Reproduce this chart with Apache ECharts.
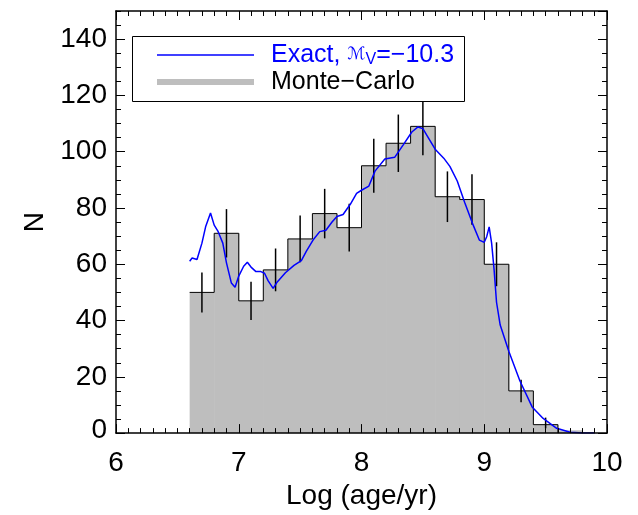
<!DOCTYPE html>
<html>
<head>
<meta charset="utf-8">
<script src="https://cdn.jsdelivr.net/npm/echarts@6/dist/echarts.min.js"></script>
<style>html,body{margin:0;padding:0;background:#fff;}#c{width:638px;height:515px;}</style>
</head>
<body>
<div id="c"></div>
<script>
// ---- data ----
const binEdges = [6.6, 6.8, 7.0, 7.2, 7.4, 7.6, 7.8, 8.0, 8.2, 8.4, 8.6, 8.8, 9.0, 9.2, 9.4, 9.6, 9.8];
const mcCounts = [50, 71, 47, 58, 69, 78, 73, 95, 103, 109, 84, 83, 60, 15, 3, 1];
const outlineBins = 15; // black outline covers the first 15 bins
const errCenters = [6.7, 6.9, 7.1, 7.3, 7.5, 7.7, 7.9, 8.1, 8.3, 8.5, 8.7, 8.9, 9.1, 9.3, 9.5];
const errValues = [50, 71, 47, 58, 69, 78, 73, 95, 103, 109, 84, 83, 60, 15, 3.6];
const errHalf = [7.1, 8.6, 6.8, 7.6, 8.3, 8.8, 8.5, 9.6, 10.2, 10.3, 9.0, 9.0, 7.8, 4.0, 1.9];
const exactX = [6.60, 6.62, 6.66, 6.70, 6.73, 6.77, 6.80, 6.83, 6.87, 6.90, 6.94, 6.97, 7.00, 7.04, 7.07, 7.10, 7.14, 7.18, 7.21, 7.24, 7.28, 7.31, 7.38, 7.45, 7.51, 7.55, 7.61, 7.66, 7.71, 7.76, 7.80, 7.85, 7.91, 7.96, 8.00, 8.06, 8.11, 8.19, 8.27, 8.34, 8.41, 8.46, 8.50, 8.54, 8.60, 8.67, 8.72, 8.78, 8.84, 8.91, 8.96, 9.00, 9.02, 9.04, 9.06, 9.08, 9.10, 9.13, 9.20, 9.29, 9.39, 9.48, 9.59, 9.70, 9.80, 9.90];
const exactN = [61.1, 62.2, 61.7, 67.5, 73.3, 78.2, 73.9, 71.8, 67.5, 60.5, 53.3, 51.8, 55.8, 59.3, 60.7, 59.0, 57.4, 57.4, 56.8, 54.1, 51.4, 53.5, 57.0, 59.6, 61.3, 64.6, 68.9, 71.6, 72.1, 75.0, 77.0, 77.7, 81.4, 85.2, 86.3, 87.8, 93.1, 97.4, 98.0, 102.4, 107.0, 108.8, 108.2, 105.3, 100.9, 97.7, 94.8, 89.6, 82.0, 73.9, 68.6, 67.8, 69.8, 73.3, 67.5, 58.2, 46.5, 38.4, 29.1, 18.6, 9.3, 5.2, 1.7, 0.3, 0.0, 0.0];
const xTicks = [6, 7, 8, 9, 10];
const yTickLabels = [0, 20, 40, 60, 80, 100, 120, 140];
const exactName = 'Exact';
const mcName = 'Monte−Carlo';

// ---- build ----
const FONT = 'Liberation Sans';
const barData = mcCounts.map((c, i) => [binEdges[i], binEdges[i + 1], c]);
const outline = [];
for (let i = 0; i < outlineBins; i++) outline.push([binEdges[i], mcCounts[i]]);
outline.push([binEdges[outlineBins], 0]);
const errData = errCenters.map((c, i) => [c, errValues[i], errHalf[i]]);
const exactData = exactX.map((x, i) => [x, exactN[i]]);

const axisCommon = {
  type: 'value',
  z: 10,
  splitLine: { show: false },
  axisLine: { show: true, onZero: false, lineStyle: { color: '#000', width: 1.5 } },
};
const xMin = xTicks[0], xMax = xTicks[xTicks.length - 1];
const yMin = yTickLabels[0], yMax = 150;

const chart = echarts.init(document.getElementById('c'), null, { renderer: 'canvas' });
chart.setOption({
  animation: false,
  backgroundColor: '#fff',
  grid: { left: 116, right: 31, top: 11, bottom: 75, containLabel: false },
  xAxis: [
    Object.assign({}, axisCommon, {
      position: 'bottom', min: xMin, max: xMax, interval: 1,
      name: 'Log (age/yr)', nameLocation: 'middle', nameGap: 38,
      nameTextStyle: { fontFamily: FONT, fontSize: 28, color: '#000' },
      axisTick: { inside: true, length: 9, lineStyle: { color: '#000', width: 1 } },
      minorTick: { show: true, splitNumber: 10, length: 5, lineStyle: { color: '#000', width: 1 } },
      axisLabel: { margin: 16, fontFamily: FONT, fontSize: 28, color: '#000' }
    }),
    Object.assign({}, axisCommon, {
      position: 'top', min: xMin, max: xMax, interval: 1,
      axisTick: { inside: true, length: 9, lineStyle: { color: '#000', width: 1 } },
      minorTick: { show: true, splitNumber: 10, length: 5, lineStyle: { color: '#000', width: 1 } },
      axisLabel: { show: false }
    })
  ],
  yAxis: [
    Object.assign({}, axisCommon, {
      position: 'left', min: yMin, max: yMax, interval: 20,
      name: 'N', nameLocation: 'middle', nameGap: 62,
      nameTextStyle: { fontFamily: FONT, fontSize: 28, color: '#000' },
      axisTick: { inside: true, length: 9, lineStyle: { color: '#000', width: 1 } },
      axisLabel: {
        margin: 9, fontFamily: FONT, fontSize: 28, color: '#000', showMaxLabel: false,
        formatter: v => (v === 0 ? '{z|0}' : String(v)),
        rich: { z: { fontFamily: FONT, fontSize: 28, color: '#000', padding: [0, 0, 6, 0] } }
      }
    }),
    Object.assign({}, axisCommon, {
      position: 'left', min: yMin, max: yMax, interval: 5,
      axisLine: { show: false },
      axisTick: { inside: true, length: 5, lineStyle: { color: '#000', width: 1 } },
      axisLabel: { show: false }
    }),
    Object.assign({}, axisCommon, {
      position: 'right', min: yMin, max: yMax, interval: 20,
      axisTick: { inside: true, length: 9, lineStyle: { color: '#000', width: 1 } },
      axisLabel: { show: false }
    }),
    Object.assign({}, axisCommon, {
      position: 'right', min: yMin, max: yMax, interval: 5,
      axisLine: { show: false },
      axisTick: { inside: true, length: 5, lineStyle: { color: '#000', width: 1 } },
      axisLabel: { show: false }
    })
  ],
  graphic: [{
    type: 'rect', z: 50, left: 132, top: 36,
    shape: { width: 332, height: 65 },
    style: { fill: '#fff', stroke: '#000', lineWidth: 1 }
  }],
  legend: {
    z: 60, orient: 'vertical', left: 157, top: 42, padding: 0, itemGap: 1,
    itemWidth: 97, itemHeight: 6,
    selectedMode: false,
    data: [
      { name: exactName, icon: 'path://M0,0L97,0L97,1.5L0,1.5Z', itemStyle: { color: '#0000ff', borderWidth: 0 } },
      { name: mcName, icon: 'rect', itemStyle: { color: '#bebebe', borderWidth: 0 } }
    ],
    formatter: name => name === exactName
      ? '{g|}{b|Exact, }{m|ℳ}{s|V}{b|=−10.3}'
      : '{g|}{k|' + name + '}',
    textStyle: {
      fontFamily: FONT, fontSize: 25, lineHeight: 26,
      rich: {
        g: { width: 12, lineHeight: 26 },
        b: { fontFamily: FONT, fontSize: 25, color: '#0000ff', lineHeight: 26 },
        m: { fontFamily: 'DejaVu Sans', fontStyle: 'italic', fontSize: 17, color: '#0000ff', lineHeight: 26 },
        s: { fontFamily: FONT, fontSize: 16, color: '#0000ff', lineHeight: 26, padding: [10, 0, 0, 0] },
        k: { fontFamily: FONT, fontSize: 25, color: '#000', lineHeight: 26 }
      }
    }
  },
  series: [
    {
      name: mcName, type: 'custom', xAxisIndex: 0, yAxisIndex: 0, z: 1,
      itemStyle: { color: '#bebebe' },
      data: barData,
      renderItem: (params, api) => {
        const p0 = api.coord([api.value(0), api.value(2)]);
        const p1 = api.coord([api.value(1), 0]);
        return {
          type: 'rect',
          shape: { x: p0[0], y: p0[1], width: p1[0] - p0[0] + 0.6, height: p1[1] - p0[1] },
          style: { fill: '#bebebe' }
        };
      }
    },
    {
      name: 'outline', type: 'line', step: 'end', xAxisIndex: 0, yAxisIndex: 0, z: 2,
      symbol: 'none', data: outline,
      lineStyle: { color: '#000', width: 1 }
    },
    {
      name: 'errors', type: 'custom', xAxisIndex: 0, yAxisIndex: 0, z: 3,
      data: errData,
      renderItem: (params, api) => {
        const c = api.value(0), v = api.value(1), e = api.value(2);
        const a = api.coord([c, v - e]);
        const b = api.coord([c, v + e]);
        return {
          type: 'line',
          shape: { x1: a[0], y1: a[1], x2: b[0], y2: b[1] },
          style: { stroke: '#000', lineWidth: 1.5 }
        };
      }
    },
    {
      name: exactName, type: 'line', xAxisIndex: 0, yAxisIndex: 0, z: 4,
      symbol: 'none', data: exactData, color: '#0000ff',
      lineStyle: { color: '#0000ff', width: 1.5 }
    }
  ]
});
</script>
</body>
</html>
